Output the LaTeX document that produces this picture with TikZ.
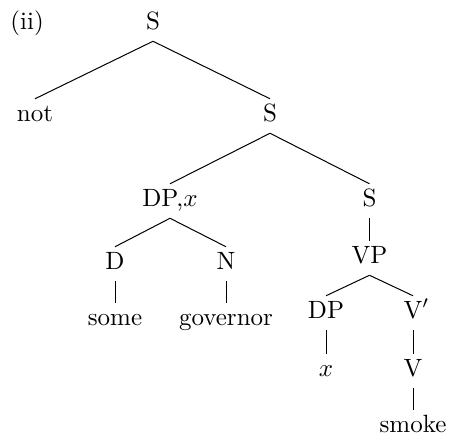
\documentclass[tikz,border=0pt]{standalone}
\begin{document}
\begin{tikzpicture}[x=0.4pt,y=-0.4pt,
  lab/.style={anchor=base,inner sep=1.7pt,text height=7pt,text depth=3pt,font=\fontsize{10}{12}\selectfont},
  edge/.style={draw=black,line width=0.4pt}]
\useasboundingbox (0,0) rectangle (451,435);
\node[lab,anchor=base west,inner sep=0pt] (ex) at (10,29) {(ii)};
\node[lab] (s1) at (153,29) {S};
\node[lab] (not) at (35,121) {not};
\node[lab] (s2) at (270,121) {S};
\node[lab] (dpx) at (170,206) {DP,$x$};
\node[lab] (s3) at (369.5,206) {S};
\node[lab] (d) at (115,269) {D};
\node[lab] (n) at (226,269) {N};
\node[lab] (vp) at (369.5,263) {VP};
\node[lab] (some) at (115,325) {some};
\node[lab] (gov) at (226,325) {governor};
\node[lab] (dp) at (326,318) {DP};
\node[lab] (vbar) at (413,318) {V\rlap{$'$}};
\node[lab] (x) at (326,376) {$x$};
\node[lab] (v) at (413,376) {V};
\node[lab] (smoke) at (413,432) {smoke};
\draw[edge] (s1.south) -- (not.north);
\draw[edge] (s1.south) -- (s2.north);
\draw[edge] (s2.south) -- (dpx.north);
\draw[edge] (s2.south) -- (s3.north);
\draw[edge] (dpx.south) -- (d.north);
\draw[edge] (dpx.south) -- (n.north);
\draw[edge] (d.south) -- (some.north);
\draw[edge] (n.south) -- (gov.north);
\draw[edge] (s3.south) -- (vp.north);
\draw[edge] (vp.south) -- (dp.north);
\draw[edge] (vp.south) -- (vbar.north);
\draw[edge] (dp.south) -- (x.north);
\draw[edge] (vbar.south) -- (v.north);
\draw[edge] (v.south) -- (smoke.north);
\end{tikzpicture}
\end{document}
